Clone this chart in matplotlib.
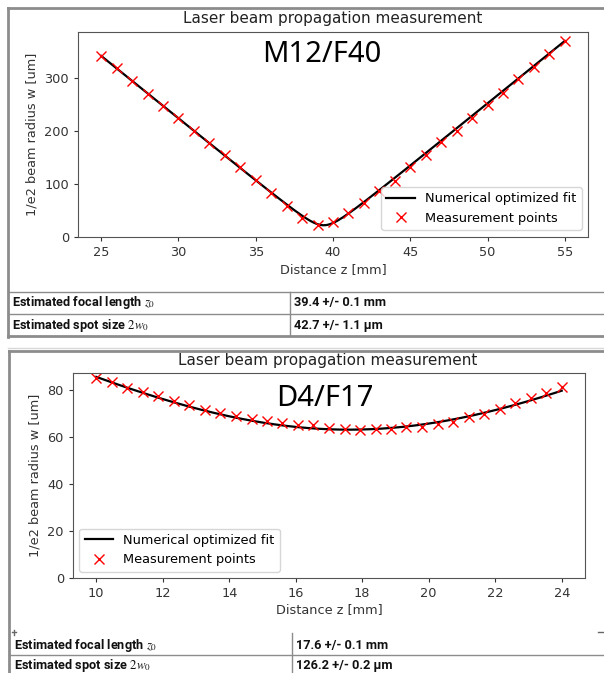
import numpy as np
import matplotlib
matplotlib.use("Agg")
import matplotlib.pyplot as plt
from matplotlib.lines import Line2D

# ---- data ----
# panel 1: M12/F40
z_m12 = [25, 26, 27, 28, 29, 30, 31, 32, 33, 34, 35, 36, 37, 38, 39, 40,
         41, 42, 43, 44, 45, 46, 47, 48, 49, 50, 51, 52, 53, 54, 55]
w_m12 = [342, 320, 295, 270, 248, 225, 201, 177, 155, 131, 108, 83, 58, 36,
         21.5, 27.5, 44, 64, 86, 106, 131, 154, 179, 201, 225, 250, 273, 298,
         322, 346, 371]
# fitted gaussian beam parameters (z0, w0, Rayleigh length) in mm / um
fit_m12 = (39.4, 21.35, 0.899)

# panel 2: D4/F17
z_d4 = [10.0, 10.47, 10.93, 11.4, 11.87, 12.33, 12.8, 13.27, 13.73, 14.2,
        14.67, 15.13, 15.6, 16.07, 16.53, 17.0, 17.47, 17.93, 18.4, 18.87,
        19.33, 19.8, 20.27, 20.73, 21.2, 21.67, 22.13, 22.6, 23.07, 23.53, 24.0]
w_d4 = [85.2, 83.3, 81.0, 79.0, 77.4, 75.5, 73.5, 71.6, 70.2, 68.8, 67.5,
        66.8, 66.1, 65.1, 65.0, 64.0, 63.3, 63.0, 63.3, 63.3, 64.1, 64.1,
        65.7, 66.5, 68.4, 69.6, 71.8, 74.6, 76.7, 78.9, 81.3]
fit_d4 = (17.6, 63.1, 8.3)

labels_m12 = ["M12/F40", "39.4 +/- 0.1 mm", "42.7 +/- 1.1 \u03bcm"]
labels_d4 = ["D4/F17", "17.6 +/- 0.1 mm", "126.2 +/- 0.2 \u03bcm"]
row_names = ["Estimated focal length $z_0$", "Estimated spot size $2w_0$"]

W, H = 604, 673
plt.rcParams["mathtext.fontset"] = "stix"
fig = plt.figure(figsize=(W / 100, H / 100), dpi=100)

TABLE_FONT = ["Roboto", "DejaVu Sans"]
FRAME = "#8c8c8c"


def px(x, y):
    # pixel (from top-left) -> figure fraction
    return x / W, 1 - y / H


def hline(x0, x1, y, color=FRAME, lw=1.0):
    a, b = px(x0, y)
    c, _ = px(x1, y)
    fig.add_artist(Line2D([a, c], [b, b], color=color, lw=lw))


def vline(x, y0, y1, color=FRAME, lw=1.0):
    a, b = px(x, y0)
    _, d = px(x, y1)
    fig.add_artist(Line2D([a, a], [b, d], color=color, lw=lw))


def beam(z, params):
    z0, w0, zr = params
    return w0 * np.sqrt(1 + ((z - z0) / zr) ** 2)


def table_text(x, y, s):
    fig.text(*px(x, y), s, fontsize=9.2, weight="bold", family=TABLE_FONT,
             va="center", color="#111111")


def panel(box, zs, ws, fit, ylim, labels, legend_loc, title_xy, tag_xy, xlab_y):
    left, right, top, bottom = box
    x0, y0 = px(left, bottom)
    ax = fig.add_axes([x0, y0, (right - left) / W, (bottom - top) / H])
    zz = np.linspace(min(zs), max(zs), 400)
    ax.plot(zz, beam(zz, fit), color="black", lw=1.6, label="Numerical optimized fit")
    ax.plot(zs, ws, "x", color="red", ms=7, mew=1.0, label="Measurement points")
    ax.set_ylim(*ylim)
    ax.tick_params(labelsize=9.3, colors="#333333", length=3)
    for s in ax.spines.values():
        s.set_color("#555555")
    ax.set_ylabel("1/e2 beam radius w [um]", fontsize=9.3, color="#333333")
    leg = ax.legend(loc=legend_loc, fontsize=9.3, frameon=True, handlelength=2.2)
    leg.get_frame().set_edgecolor("#cccccc")
    fig.text(*px(*title_xy), "Laser beam propagation measurement", ha="center",
             va="center", fontsize=11, color="#222222")
    fig.text(*px(*tag_xy), labels[0], ha="center", va="center", fontsize=21,
             family="Noto Sans", color="black")
    fig.text(*px((left + right) / 2, xlab_y), "Distance z [mm]", ha="center",
             va="center", fontsize=9.3, color="#333333")
    return ax


# ---- panel 1 ----
ax1 = panel((78, 588, 32, 236.5), z_m12, w_m12, fit_m12, (0, 388), labels_m12,
            "lower right", (333, 18), (322, 55), 270)
ax1.set_xlim(23.5, 56.5)
ax1.set_xticks([25, 30, 35, 40, 45, 50, 55])
ax1.set_yticks([0, 100, 200, 300])

vline(8, 8, 337, lw=2)
hline(8, 606, 8, lw=2)
hline(8, 606, 336, lw=2)
hline(8, 606, 292)
hline(8, 606, 314)
vline(290, 292, 336)
hline(8, 606, 348, color="#d8d8d8")
for i, y in enumerate([303, 325]):
    table_text(12, y, row_names[i])
    table_text(294, y, labels_m12[i + 1])

# ---- panel 2 ----
ax2 = panel((73, 585, 373, 578), z_d4, w_d4, fit_d4, (0, 87.2), labels_d4,
            "lower left", (328, 361), (325, 398), 610)
ax2.set_xlim(9.3, 24.7)
ax2.set_xticks([10, 12, 14, 16, 18, 20, 22, 24])
ax2.set_yticks([0, 20, 40, 60, 80])

vline(9, 351, 680, lw=2)
hline(9, 606, 351, lw=2)
hline(9, 606, 655)
vline(292, 633, 680)
vline(14, 630, 635, color="#666666")
hline(12, 16, 632, color="#666666")
hline(598, 604, 632, color="#666666")
for i, y in enumerate([645, 665]):
    table_text(14, y, row_names[i])
    table_text(296, y, labels_d4[i + 1])

fig.savefig("out.png", dpi=100)
